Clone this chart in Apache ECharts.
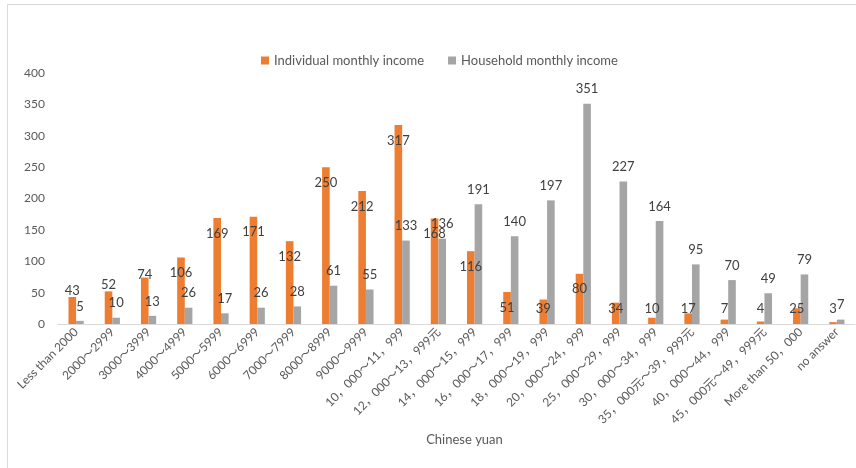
<!DOCTYPE html>
<html>
<head>
<meta charset="utf-8">
<script src="https://cdn.jsdelivr.net/npm/echarts@6/dist/echarts.min.js"></script>
<style>
  html, body { margin: 0; padding: 0; background: #fff; }
  #chart { width: 856px; height: 468px; }
</style>
</head>
<body>
<div id="chart"></div>
<script>
// Income brackets (Chinese yuan)
const categories = [
  'Less than 2000', '2000～2999', '3000～3999', '4000～4999', '5000～5999',
  '6000～6999', '7000～7999', '8000～8999', '9000～9999', '10，000～11，999',
  '12，000～13，999元', '14，000～15，999', '16，000～17，999', '18，000～19，999',
  '20，000～24，999', '25，000～29，999', '30，000～34，999', '35，000元～39，999元',
  '40，000～44，999', '45，000元～49，999元', 'More than 50，000', 'no answer'
];
const individualIncome = [43, 52, 74, 106, 169, 171, 132, 250, 212, 317, 168, 116, 51, 39, 80, 34, 10, 17, 7, 4, 25, 3];
const householdIncome  = [5, 10, 13, 26, 17, 26, 28, 61, 55, 133, 136, 191, 140, 197, 351, 227, 164, 95, 70, 49, 79, 7];
const yTicks = [0, 50, 100, 150, 200, 250, 300, 350, 400];

const FONT = 'Lato, "Noto Sans CJK SC", sans-serif';
const axisMax = yTicks[yTicks.length - 1];
const plotHeight = 251;

// Orange labels sit inside the top of tall bars, at the foot of short ones,
// and just above the first few bars.
const individualData = individualIncome.map((v, i) => {
  let label;
  if (i < 3) {
    label = { position: 'top', distance: i === 2 ? -4 : 0 };
  } else if (v * plotHeight / axisMax >= 31) {
    label = { position: 'insideTop', distance: 9 };
  } else {
    label = { position: 'insideBottom', distance: 9 };
  }
  return { value: v, label };
});

const chart = echarts.init(document.getElementById('chart'));
chart.setOption({
  backgroundColor: '#ffffff',
  animation: false,
  textStyle: { fontFamily: FONT },
  graphic: [{
    type: 'rect',
    shape: { x: 7.5, y: 4.5, width: 900, height: 520 },
    style: { fill: 'none', stroke: '#d9d9d9', lineWidth: 1 },
    silent: true
  }],
  legend: {
    top: 49,
    left: 256,
    itemWidth: 8,
    itemHeight: 8,
    itemGap: 24,
    icon: 'rect',
    textStyle: { color: '#595959', fontSize: 13, fontFamily: FONT },
    data: ['Individual monthly income', 'Household monthly income']
  },
  grid: { left: 58, right: 1, top: 73, bottom: 144, containLabel: false },
  xAxis: {
    type: 'category',
    data: categories,
    name: 'Chinese yuan',
    nameLocation: 'middle',
    nameGap: 104,
    nameTextStyle: { color: '#595959', fontSize: 13, fontFamily: FONT, padding: [0, 0, 0, 16] },
    axisLine: { lineStyle: { color: '#d9d9d9', width: 1 } },
    axisTick: { show: false },
    axisLabel: {
      interval: 0,
      rotate: 45,
      margin: 6,
      color: '#595959',
      fontSize: 12,
      fontFamily: FONT
    }
  },
  yAxis: {
    type: 'value',
    min: yTicks[0],
    max: axisMax,
    interval: yTicks[1] - yTicks[0],
    axisLine: { show: false },
    axisTick: { show: false },
    splitLine: { show: false },
    axisLabel: { color: '#595959', fontSize: 12, margin: 13, fontFamily: FONT }
  },
  series: [
    {
      name: 'Individual monthly income',
      type: 'bar',
      data: individualData,
      itemStyle: { color: '#ED7D31' },
      barGap: '0%',
      barCategoryGap: '58%',
      label: { show: true, color: '#404040', fontSize: 13, fontFamily: FONT }
    },
    {
      name: 'Household monthly income',
      type: 'bar',
      data: householdIncome,
      itemStyle: { color: '#A5A5A5' },
      barGap: '0%',
      barCategoryGap: '58%',
      label: { show: true, position: 'top', distance: 8, color: '#404040', fontSize: 13, fontFamily: FONT }
    }
  ]
});
</script>
</body>
</html>
